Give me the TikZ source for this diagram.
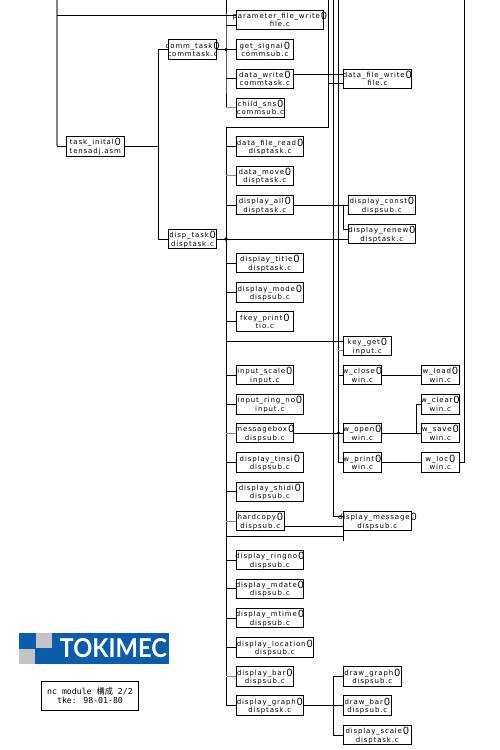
\documentclass[tikz,border=0pt]{standalone}
\usepackage{fontspec}
\setmainfont{DejaVu Sans}
\newfontfamily\lblfont[LetterSpace=12]{DejaVu Sans}
\newfontfamily\zerofont{Liberation Sans}
\newfontfamily\cjkfont{Noto Sans CJK JP}
\newfontfamily\notefont{DejaVu Sans Mono}
\newfontfamily\logofont{Lato}
\definecolor{tkblue}{HTML}{0B5CAA}
\definecolor{tkgray}{HTML}{C4C4C4}
\tikzset{
  fnbox/.style={draw=black,line width=1pt,fill=white,inner sep=0pt,outer sep=0pt},
  wire/.style={draw=black,line width=1pt},
  fwire/.style={draw=black!45,line width=1pt},
  junction/.style={fill=black,circle,inner sep=0pt,minimum size=3.6pt},
}
\newcommand{\fnnode}[7]{% id, x1,y1,x2,y2, name, file
  \node[fnbox,minimum width={(#4-#2)*1pt},minimum height={(#5-#3)*1pt}]
    (#1) at ({(#2+#4)/2},{(#3+#5)/2})
    {\makebox[0pt][c]{\fontsize{7}{8.8}\lblfont\begin{tabular}{@{}c@{}}\rule{0pt}{8.4pt}#6\,\raisebox{-0.9pt}{\zerofont\fontsize{10.5}{8.8}\selectfont 0}\\[-0.3pt]#7\end{tabular}}};
}
\begin{document}
\begin{tikzpicture}[x=1pt,y=-1pt]
\useasboundingbox (0,0) rectangle (500,750);
% function boxes
\fnnode{ti}{66.3}{137.3}{124.3}{155.3}{task\_inital}{tensadj.asm}
\fnnode{ct}{168.7}{41}{216.5}{58.3}{comm\_task}{commtask.c}
\fnnode{dt}{168.7}{230}{216.5}{248}{disp\_task}{disptask.c}
\fnnode{pf}{236.3}{10.3}{323.3}{29.3}{parameter\_file\_write}{file.c}
\fnnode{gs}{236.3}{40.7}{293.3}{58.3}{get\_signal}{commsub.c}
\fnnode{dw}{236.3}{69.7}{293.3}{88}{data\_write}{commtask.c}
\fnnode{cs}{236.3}{98.3}{284.5}{117.3}{child\_sns}{commsub.c}
\fnnode{dfr}{236.3}{137.3}{303.7}{155.7}{data\_file\_read}{disptask.c}
\fnnode{dmv}{236.3}{166.3}{293.3}{185.3}{data\_move}{disptask.c}
\fnnode{dal}{236.3}{195.7}{293.3}{214.3}{display\_all}{disptask.c}
\fnnode{dfw}{343.3}{69.7}{411.3}{88}{data\_file\_write}{file.c}
\fnnode{dcn}{348.3}{195.7}{415.3}{214.3}{display\_const}{dispsub.c}
\fnnode{drn}{348.3}{224.7}{415.3}{243.3}{display\_renew}{disptask.c}
\fnnode{dtt}{236.3}{253.7}{303.3}{272.3}{display\_title}{disptask.c}
\fnnode{dmd}{236.3}{283.3}{303.3}{301.7}{display\_mode}{dispsub.c}
\fnnode{fkp}{236.3}{312.3}{293.3}{331}{fkey\_print}{tio.c}
\fnnode{kg}{343.3}{336.7}{391.3}{355.3}{key\_get}{input.c}
\fnnode{isc}{236.3}{366}{293.3}{384.3}{input\_scale}{input.c}
\fnnode{irn}{236.3}{395}{303.3}{413.7}{input\_ring\_no}{input.c}
\fnnode{mb}{236.3}{423.7}{293.3}{442.3}{messagebox}{dispsub.c}
\fnnode{dts}{236.3}{453.3}{303.3}{471.7}{display\_tinsi}{dispsub.c}
\fnnode{dsh}{236.3}{482.3}{303.3}{501.3}{display\_shidi}{dispsub.c}
\fnnode{wcl}{343.3}{366}{381.3}{384.3}{w\_close}{win.c}
\fnnode{wop}{343.3}{423.7}{381.3}{442.3}{w\_open}{win.c}
\fnnode{wpr}{343.3}{453.3}{381.3}{471.7}{w\_print}{win.c}
\fnnode{wld}{421.3}{366}{459.3}{384.3}{w\_load}{win.c}
\fnnode{wcr}{421.3}{395}{459.3}{413.7}{w\_clear}{win.c}
\fnnode{wsv}{421.3}{423.7}{459.3}{442.3}{w\_save}{win.c}
\fnnode{wlc}{421.3}{453.3}{459.3}{471.7}{w\_loc}{win.c}
\fnnode{hc}{236.3}{512}{284.3}{530.3}{hardcopy}{dispsub.c}
\fnnode{dms}{343.3}{512}{411.3}{530.3}{display\_message}{dispsub.c}
\fnnode{drg}{236.3}{551}{303.3}{569}{display\_ringno}{dispsub.c}
\fnnode{dmt}{236.3}{579.3}{303.3}{598.3}{display\_mdate}{dispsub.c}
\fnnode{dmi}{236.3}{608.7}{303.3}{627.3}{display\_mtime}{dispsub.c}
\fnnode{dlo}{236.3}{638.7}{313.3}{656.3}{display\_location}{dispsub.c}
\fnnode{dbr}{236.3}{667}{293.3}{686.3}{display\_bar}{dispsub.c}
\fnnode{dgp}{236.3}{696.7}{303.3}{714.3}{display\_graph}{disptask.c}
\fnnode{dwg}{343.3}{667}{401.3}{686.3}{draw\_graph}{dispsub.c}
\fnnode{dwb}{343.3}{696.7}{391.3}{714.3}{draw\_bar}{dispsub.c}
\fnnode{dsc}{343.3}{725.7}{411.3}{744.3}{display\_scale}{disptask.c}
% named points
\coordinate (lt) at (57,0);
\coordinate (pfa) at (236.3,15.3);
\coordinate (pfb) at (236.3,25);
\coordinate (atop) at (226,0);
\coordinate (bx) at (158,146.3);
\coordinate (btop) at (328.3,0);
\coordinate (bcorner) at (328.3,127);
\coordinate (bstart) at (226,127);
\coordinate (m) at (333.3,0);
\coordinate (n) at (338.3,0);
\coordinate (dwr) at (293.3,74.7);
\coordinate (dfa) at (343.3,74.7);
\coordinate (dfb) at (343.3,83.3);
\coordinate (dfc) at (328.3,83.3);
\coordinate (kga) at (343.3,341);
\coordinate (kgb) at (343.3,350);
\coordinate (dma) at (343.3,516.3);
\coordinate (dmb) at (343.3,526);
\coordinate (dmc) at (343.3,536.3);
\coordinate (dmd2) at (343.3,541);
\coordinate (hcr) at (284.3,526);
\coordinate (rnx) at (343.3,205);
\coordinate (rny) at (348.3,229.3);
\coordinate (rnz) at (348.3,239);
\coordinate (wx) at (416,433);
\coordinate (wtop) at (464.7,0);
\coordinate (gx) at (333.3,706);
% top-left feed
\draw[draw=black!50,line width=1.4pt] (lt) -- (lt |- ti.west);
\draw[wire] (lt |- ti.west) -- (ti.west);
\draw[wire] (lt |- pfa) -- (pfa);
% task_init tree
\draw[wire] (ti.east) -- (bx);
\draw[wire] (ct.west) -- (bx |- ct.west) -- (bx |- dt.west) -- (dt.west);
% comm bus
\draw[wire] (atop) -- (atop |- pfb) -- (atop |- dw.west) -- (atop |- cs.west);
\draw[wire] (atop |- pfb) -- (pfb);
\draw[wire] (ct.east) -- (gs.west |- ct.east);
\draw[wire] (atop |- dw.west) -- (dw.west);
\draw[fwire] (atop |- cs.west) -- (cs.west);
\node[junction] (jc) at (atop |- ct.east) {};
% disp bus
\draw[wire] (btop) -- (bcorner) -- (bstart) -- (bstart |- dgp.west) -- (dgp.west);
\foreach \t in {dfr,dal,dtt,dmd,fkp,isc,irn,dts,dsh,drg,dmt,dmi,dlo,dgp}{
  \draw[wire] (bstart |- \t.west) -- (\t.west);
}
\foreach \t in {dmv,mb,hc,dbr}{
  \draw[fwire] (bstart |- \t.west) -- (\t.west);
}
\draw[wire] (dt.east) -- (rnz |- dt.east);
\node[junction] (jd) at (bstart |- dt.east) {};
\draw[wire] (bstart |- kga) -- (kga);
\draw[wire] (bstart |- dmc) -- (dmc);
\draw[wire] (dmb) -- (dmd2);
% long verticals
\draw[wire] (m) -- (m |- dma) -- (dma);
\draw[wire] (n) -- (n |- wpr.west) -- (wpr.west);
\draw[fwire] (n |- kgb) -- (kgb);
\draw[wire] (n |- wcl.west) -- (wcl.west);
\draw[wire] (mb.east) -- (wop.west);
\node[junction] (jw) at (n |- wop.west) {};
% data_write / file
\draw[wire] (dwr) -- (dfa);
\draw[wire] (dfc) -- (dfb);
% display_all
\draw[wire] (dal.east) -- (dcn.west);
\draw[wire] (rnx) -- (rnx |- rny) -- (rny);
% windows
\draw[wire] (wcl.east) -- (wld.west);
\draw[wire] (wop.east) -- (wsv.west);
\draw[wire] (wx) -- (wx |- wcr.west) -- (wcr.west);
\draw[wire] (wpr.east) -- (wlc.west);
\draw[wire] (wlc.east) -- (wtop |- wlc.east) -- (wtop);
% hardcopy
\draw[wire] (hcr) -- (dmb);
% display_graph
\draw[wire] (dgp.east) -- (dwb.west);
\draw[wire] (dwg.west) -- (gx |- dwg.west) -- (gx |- dsc.west) -- (dsc.west);
% logo
\fill[tkblue] (19,633.3) rectangle (168.7,663.7);
\fill[tkgray] (35.7,633.3) rectangle (51.7,648);
\fill[tkgray] (19,648.7) rectangle (35.3,663.7);
\node[text=white,inner sep=0pt,xscale=0.91,font=\logofont\bfseries\fontsize{26}{26}\selectfont] (logotext) at (113.3,648.4) {TOKIMEC};
% note
\node[draw=black,line width=1pt,fill=white,minimum width=96.6pt,minimum height=29pt,inner sep=0pt,align=center,font=\notefont\fontsize{8.2}{9}\selectfont] (note) at (90,695.8)
  {nc module {\cjkfont 構成} 2/2\\tke: 98-01-80};
\end{tikzpicture}
\end{document}
